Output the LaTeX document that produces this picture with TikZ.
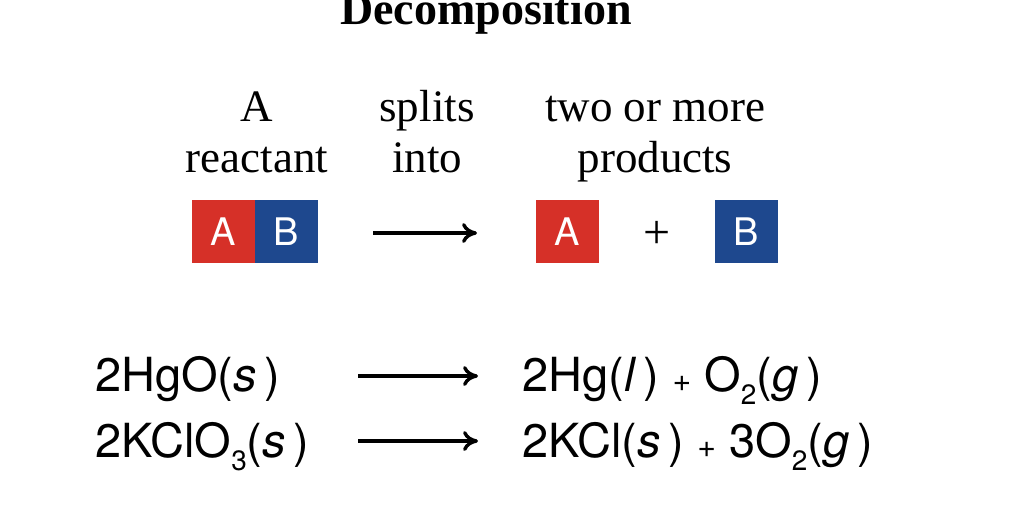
\documentclass[tikz,border=0pt]{standalone}
\usepackage{fontspec}
\setmainfont{Liberation Serif}
\newfontfamily\eqfont{TeX Gyre Heros}
\usetikzlibrary{arrows.meta}
\definecolor{rbox}{RGB}{214,48,40}
\definecolor{bbox}{RGB}{30,72,142}
\newcommand{\sub}[1]{\raisebox{-0.28em}{\fontsize{28}{28}\selectfont #1}}
\newcommand{\pl}{\;{\fontsize{32}{32}\selectfont+}\;}
\tikzset{
 lab/.style={anchor=base,font=\fontsize{45}{50}\selectfont},
 box/.style={minimum width=63pt,minimum height=63pt,inner sep=0pt,text=white,font=\eqfont\fontsize{38}{38}\selectfont},
 eq/.style={anchor=base west,inner sep=0pt,font=\eqfont\fontsize{47}{47}\selectfont},
 arr/.style={line width=3.4pt,-{To[length=15pt,width=20pt]}}
}
\begin{document}
\begin{tikzpicture}[x=1pt,y=-1pt]
\useasboundingbox (0,0) rectangle (1016,528);
\node[anchor=base,font=\bfseries\fontsize{46}{50}\selectfont] (t) at (486,24) {Decomposition};
\node[lab] (l1) at (257,121) {A};
\node[lab] (l2) at (257,172) {reactant};
\node[lab] (l3) at (427,121) {splits};
\node[lab] (l4) at (427,172) {into};
\node[lab] (l5) at (655,121) {two or more};
\node[lab] (l6) at (655,172) {products};
\node[box,fill=rbox] (a1) at (223.5,231.5) {A};
\node[box,fill=bbox] (b1) at (286,231.5) {B};
\coordinate (s1) at (373,233);
\coordinate (e1) at (477,233);
\draw[arr] (s1) -- (e1);
\node[box,fill=rbox] (a2) at (567.5,231.5) {A};
\node[anchor=base,font=\fontsize{48}{48}\selectfont] (p) at (657,248) {+};
\node[box,fill=bbox] (b2) at (746.5,231.5) {B};
\node[eq] (e1l) at (95,391) {2HgO(\textit{s}\,)};
\node[eq] (e1r) at (522,391) {2Hg(\textit{l}\,)\pl O\sub{2}(\textit{g}\,)};
\node[eq] (e2l) at (95,457) {2KClO\sub{3}(\textit{s}\,)};
\node[eq] (e2r) at (522,457) {2KCl(\textit{s}\,)\pl 3O\sub{2}(\textit{g}\,)};
\coordinate (s2) at (358,376);
\coordinate (f2) at (478,376);
\draw[arr] (s2) -- (f2);
\coordinate (s3) at (358,441);
\coordinate (f3) at (478,441);
\draw[arr] (s3) -- (f3);
\end{tikzpicture}
\end{document}
